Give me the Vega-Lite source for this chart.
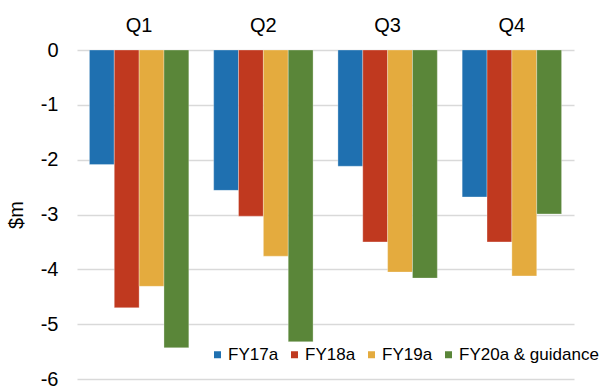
{
  "$schema": "https://vega.github.io/schema/vega-lite/v6.json",
  "width": 497,
  "height": 329,
  "autosize": {"type": "none"},
  "padding": {"left": 77, "top": 50, "right": 26, "bottom": 8},
  "background": "white",
  "config": {
    "view": {"stroke": null},
    "font": "Liberation Sans",
    "axis": {"labelFont": "Liberation Sans", "titleFont": "Liberation Sans", "labelColor": "#000000", "titleColor": "#000000"},
    "legend": {"labelFont": "Liberation Sans"}
  },
  "data": {
    "values": [
      {"quarter": "Q1", "series": "FY17a", "value": -2.09},
      {"quarter": "Q1", "series": "FY18a", "value": -4.70},
      {"quarter": "Q1", "series": "FY19a", "value": -4.31},
      {"quarter": "Q1", "series": "FY20a & guidance", "value": -5.43},
      {"quarter": "Q2", "series": "FY17a", "value": -2.56},
      {"quarter": "Q2", "series": "FY18a", "value": -3.03},
      {"quarter": "Q2", "series": "FY19a", "value": -3.76},
      {"quarter": "Q2", "series": "FY20a & guidance", "value": -5.32},
      {"quarter": "Q3", "series": "FY17a", "value": -2.12},
      {"quarter": "Q3", "series": "FY18a", "value": -3.50},
      {"quarter": "Q3", "series": "FY19a", "value": -4.05},
      {"quarter": "Q3", "series": "FY20a & guidance", "value": -4.16},
      {"quarter": "Q4", "series": "FY17a", "value": -2.68},
      {"quarter": "Q4", "series": "FY18a", "value": -3.50},
      {"quarter": "Q4", "series": "FY19a", "value": -4.12},
      {"quarter": "Q4", "series": "FY20a & guidance", "value": -2.99}
    ]
  },
  "mark": {"type": "bar", "stroke": "#ffffff", "strokeWidth": 0.5, "strokeOpacity": 0.6},
  "encoding": {
    "x": {
      "field": "quarter",
      "type": "nominal",
      "scale": {"paddingInner": 0.2, "paddingOuter": 0.1},
      "axis": {
        "orient": "top",
        "title": null,
        "labelAngle": 0,
        "ticks": false,
        "domain": false,
        "labelFontSize": 20,
        "labelPadding": 15
      }
    },
    "xOffset": {"field": "series", "type": "nominal"},
    "y": {
      "field": "value",
      "type": "quantitative",
      "scale": {"domain": [-6, 0], "nice": false, "zero": false},
      "axis": {
        "title": "$m",
        "titleFontSize": 20,
        "titleFontWeight": "normal",
        "titleX": -61,
        "titleY": 164.5,
        "titleAngle": -90,
        "titleAlign": "center",
        "titleBaseline": "middle",
        "values": [-6, -5, -4, -3, -2, -1, 0],
        "labelExpr": "'' + datum.value",
        "labelFontSize": 20,
        "labelPadding": 19,
        "ticks": false,
        "domain": false,
        "grid": true,
        "gridColor": "#d9d9d9",
        "gridWidth": 1.5
      }
    },
    "color": {
      "field": "series",
      "type": "nominal",
      "scale": {
        "domain": ["FY17a", "FY18a", "FY19a", "FY20a & guidance"],
        "range": ["#1f70b0", "#c0391f", "#e4ab3e", "#5a8639"]
      },
      "legend": {
        "title": null,
        "orient": "none",
        "direction": "horizontal",
        "legendX": 132,
        "legendY": 296,
        "padding": 0,
        "symbolType": "square",
        "symbolSize": 49,
        "symbolStrokeWidth": 0,
        "labelFontSize": 17,
        "labelColor": "#000000",
        "labelOffset": 2,
        "columnPadding": 7,
        "labelLimit": 300
      }
    }
  }
}
